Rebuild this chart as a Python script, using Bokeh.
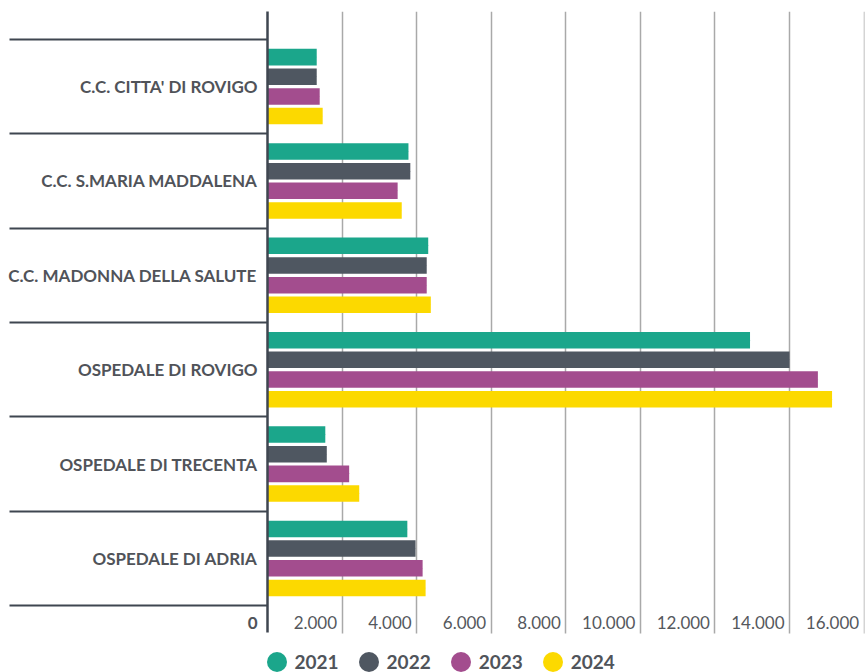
from bokeh.plotting import figure
from bokeh.models import (Range1d, FixedTicker, ColumnDataSource, Legend, LegendItem,
                          LabelSet, LinearAxis, CustomLabelingPolicy)
from bokeh.core.properties import value
from bokeh.transform import dodge
from bokeh.embed import file_html
from bokeh.resources import INLINE

# ---------------- data ----------------
categories = ["C.C. CITTA' DI ROVIGO", "C.C. S.MARIA MADDALENA", "C.C. MADONNA DELLA SALUTE",
              "OSPEDALE DI ROVIGO", "OSPEDALE DI TRECENTA", "OSPEDALE DI ADRIA"]
years = ["2021", "2022", "2023", "2024"]
v2021 = [1320, 3780, 4310, 12940, 1550, 3750]
v2022 = [1320, 3830, 4270, 14000, 1590, 3970]
v2023 = [1400, 3490, 4270, 14760, 2190, 4160]
v2024 = [1480, 3600, 4380, 15140, 2460, 4240]
x_ticks = [0, 2000, 4000, 6000, 8000, 10000, 12000, 14000, 16000]
x_tick_labels = ["0", "2.000", "4.000", "6.000", "8.000", "10.000", "12.000", "14.000", "16.000"]
colors = ["#1ba68b", "#4f5761", "#a34d8e", "#fcd900"]

# ---------------- figure ----------------
n = len(categories)
centers = [i + 0.5 for i in range(n)]
bounds = [float(i) for i in range(n + 1)]
pad_top, pad_bottom = 0.296, 0.286
band_px = 94.5
frame_h = 662  # frame runs to the bottom so the legend sits inside it
y_bottom = -pad_top + frame_h / band_px
label_row = n + pad_bottom - 0.105  # row of the x tick labels

p = figure(width=865, height=672, output_backend="svg", toolbar_location=None,
           x_range=Range1d(0, 16010), y_range=Range1d(y_bottom, -pad_top),
           x_axis_location=None,
           min_border_left=267, min_border_right=1, min_border_top=10, min_border_bottom=0)
p.outline_line_color = None
p.background_fill_color = "white"
p.border_fill_color = "white"

src = ColumnDataSource(dict(pos=centers, y2021=v2021, y2022=v2022, y2023=v2023, y2024=v2024))
offsets = [-0.3125, -0.1042, 0.1042, 0.3125]
cols = ["y2021", "y2022", "y2023", "y2024"]
items = []
for col, off, c, yr in zip(cols, offsets, colors, years):
    p.hbar(y=dodge("pos", off, range=p.y_range), right=col, left=0, height=0.175,
           source=src, fill_color=c, line_color=None)
    # tiny round marks at the bar ends, used to give the legend a round swatch
    r = p.ellipse(x=col, y=dodge("pos", off, range=p.y_range), source=src,
                  width=0.5, height=0.5, width_units="screen", height_units="screen",
                  fill_color=c, line_color=None)
    items.append(LegendItem(label=yr, renderers=[r]))

legend = Legend(items=items, orientation="horizontal", location=(-3.5, -2),
                glyph_width=25, glyph_height=25, label_standoff=6, spacing=17,
                padding=0, margin=0, border_line_color=None, background_fill_alpha=0,
                label_text_font="Lato", label_text_font_size="19px",
                label_text_font_style="bold", label_text_color="#50545a",
                label_text_baseline="middle")
p.add_layout(legend, "center")

# y axis: category names at band centres, long minor ticks as band separators,
# plus the "0" of the value scale just left of the axis line
ya = p.yaxis[0]
ya.bounds = (-pad_top, n + pad_bottom)
ya.ticker = FixedTicker(ticks=centers + [label_row], minor_ticks=bounds)
overrides = {c: name for c, name in zip(centers, categories)}
overrides[label_row] = x_tick_labels[0]
ya.major_label_overrides = overrides
ya.major_tick_out = 0
ya.major_tick_in = 0
ya.minor_tick_out = 258
ya.minor_tick_in = 0
ya.minor_tick_line_color = "#3f4650"
ya.minor_tick_line_width = 2
ya.axis_line_color = "#3f4650"
ya.axis_line_width = 2.5
ya.major_label_standoff = -248
ya.major_label_text_font = "Lato"
ya.major_label_text_font_size = "17px"
ya.major_label_text_font_style = "bold"
ya.major_label_text_color = "#505359"

# vertical grid lines: inward ticks of an unlabeled axis on top, ending at the chart bottom
gx = LinearAxis(ticker=FixedTicker(ticks=x_ticks[1:]), axis_line_color=None,
                major_tick_out=0, major_tick_in=int(round((n + pad_top + pad_bottom) * band_px)),
                major_tick_line_color="#a9a9a9", major_tick_line_width=1.5,
                minor_tick_out=0, minor_tick_in=0,
                major_label_policy=CustomLabelingPolicy(code="return []"),
                major_label_standoff=0, level="underlay")
p.add_layout(gx, "above")

# x tick labels sit just left of each grid line
lab_src = ColumnDataSource(dict(x=x_ticks[1:], t=x_tick_labels[1:],
                                y=[label_row] * (len(x_ticks) - 1)))
p.add_layout(LabelSet(x="x", y="y", text="t", source=lab_src, x_offset=-5,
                      text_align="right", text_baseline="middle",
                      text_font=value("Lato"), text_font_size=value("17px"),
                      text_color="#55585d"))

p.xgrid.grid_line_color = None
p.ygrid.grid_line_color = None

open("out.html", "w").write(file_html(p, INLINE))
